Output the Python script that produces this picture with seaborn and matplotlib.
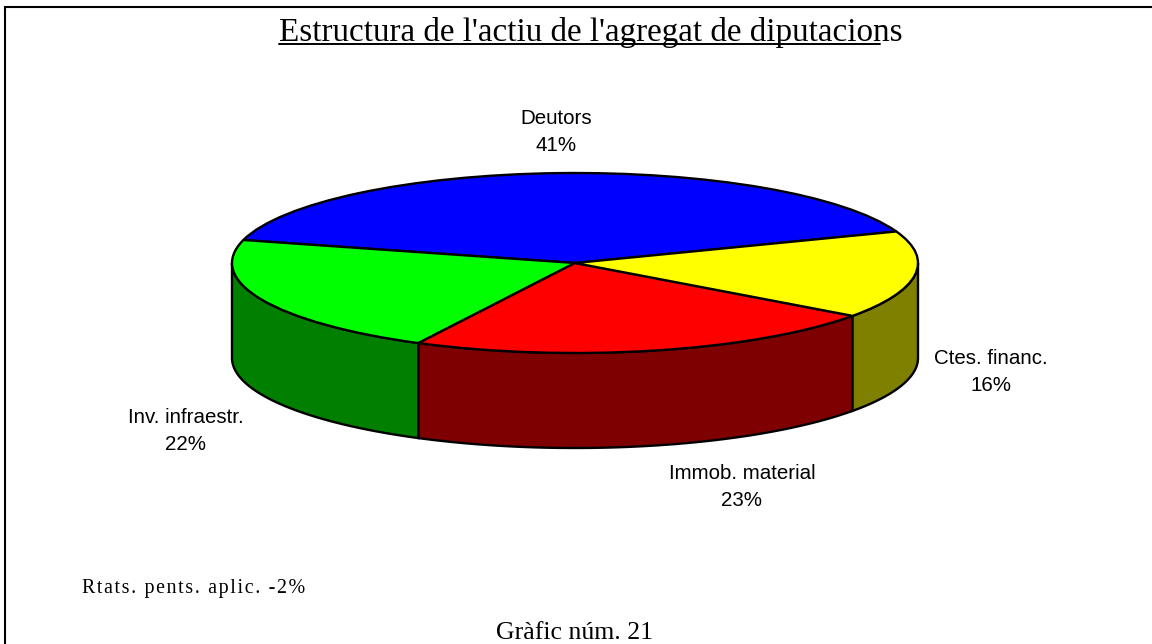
import numpy as np
import pandas as pd
import matplotlib
matplotlib.use("Agg")
import matplotlib.pyplot as plt
from matplotlib.lines import Line2D
from matplotlib.patches import Rectangle
import seaborn as sns

# values
categories = ["Deutors", "Inv. infraestr.", "Immob. material", "Ctes. financ."]
percents = [41, 22, 23, 16]
top_colors = ["#0000ff", "#00ff00", "#ff0000", "#ffff00"]
side_colors = ["#00007f", "#007f00", "#7f0000", "#7f7f00"]
title = "Estructura de l'actiu de l'agregat de diputacions"
note = "Rtats. pents. aplic. -2%"
footer = "Gràfic núm. 21"

W, H = 1152, 644
CX, CY, RX, RY = 575, 263, 343, 90
DEPTH = 95 / RY
START = 20.5

sns.set_theme(style="white")
plt.rcParams["font.family"] = ["Liberation Sans", "DejaVu Sans"]

df = pd.DataFrame({"name": categories, "pct": percents})
df["end"] = START + df["pct"].cumsum() / df["pct"].sum() * 360
df["start"] = df["end"].shift(1).fillna(START)

fig = plt.figure(figsize=(W / 100, H / 100), dpi=100, facecolor="white")
ax = fig.add_axes([0, 0, 1, 1])

# top of the pie, squashed into an ellipse by the axes limits
ax.pie(df["pct"], colors=top_colors, startangle=START, counterclock=True,
       wedgeprops={"edgecolor": "black", "linewidth": 1.7, "zorder": 3})
ax.set_aspect("auto")
ax.set_xlim((0 - CX) / RX, (W - CX) / RX)
ax.set_ylim((CY - H) / RY, CY / RY)

# side walls, only the part of each slice facing the viewer
for _, row in df.iterrows():
    color = side_colors[categories.index(row["name"])]
    for shift in (0, 360):
        a0 = max(row["start"], 180 + shift)
        a1 = min(row["end"], 360 + shift)
        if a1 <= a0:
            continue
        t = np.radians(np.linspace(a0, a1, 120))
        xs = np.cos(t)
        ys = np.sin(t)
        ax.fill(np.r_[xs, xs[::-1]], np.r_[ys, ys[::-1] - DEPTH],
                facecolor=color, edgecolor="black", linewidth=1.7, zorder=2)


def put(px, py, s, **kw):
    fig.text(px / W, 1 - py / H, s, ha="center", va="center", **kw)


label_pos = {"Deutors": (556, 132), "Inv. infraestr.": (186, 431),
             "Immob. material": (742, 487), "Ctes. financ.": (991, 372)}
for name, pct in zip(categories, percents):
    x, y = label_pos[name]
    put(x, y, f"{name}\n{pct}%", fontsize=14.8, color="black", linespacing=1.5)

serif = ["Liberation Serif", "DejaVu Serif"]
put(591, 32, title, fontsize=23.9, family=serif, color="black")
fig.add_artist(Line2D([279 / W, 880 / W], [1 - 44 / H, 1 - 44 / H], color="black", linewidth=1.4))
# the note is letter-spaced in the original
put(193.5, 589, "\u200a".join(note), fontsize=14.4, family=serif, color="black")
put(575, 633, footer, fontsize=18.5, family=serif, color="black")

# outer frame runs off the right and bottom of the picture
fig.add_artist(Rectangle((5 / W, -0.02), 1.05, 1.02 - 7 / H, fill=False,
                         edgecolor="black", linewidth=1.5, transform=fig.transFigure))

fig.savefig("out.png", dpi=100)
